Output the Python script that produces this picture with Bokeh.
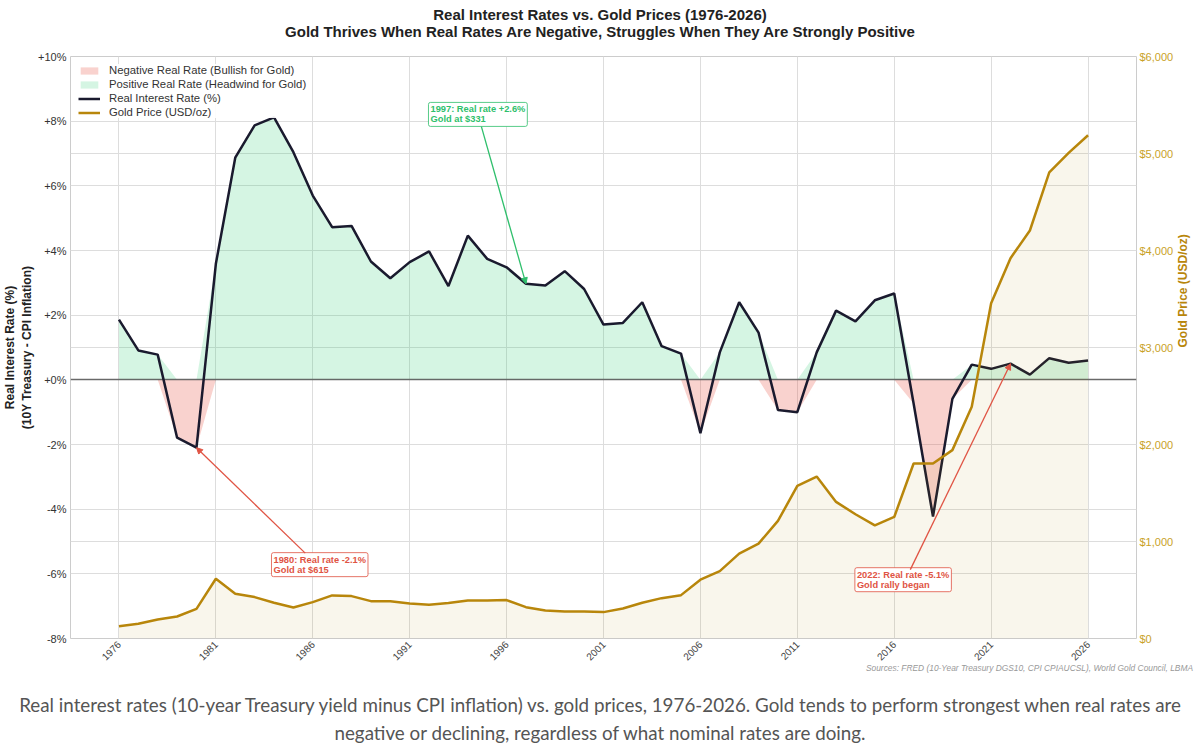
import math
import numpy as np
from bokeh.plotting import figure
from bokeh.layouts import column
from bokeh.models import (Range1d, LinearAxis, FixedTicker, Grid, Label, Arrow, Div,
                          NormalHead, Legend, LegendItem, ColumnDataSource)
from bokeh.embed import file_html
from bokeh.resources import INLINE

# ---------------- data ----------------
years = list(range(1976, 2027))
real_rate = [1.86, 0.91, 0.78, -1.79, -2.10, 3.59, 6.87, 7.87, 8.12, 7.04,
             5.70, 4.72, 4.76, 3.66, 3.14, 3.64, 3.97, 2.90, 4.46, 3.74,
             3.48, 2.97, 2.92, 3.36, 2.81, 1.71, 1.76, 2.40, 1.04, 0.81,
             -1.65, 0.85, 2.40, 1.46, -0.93, -1.00, 0.85, 2.14, 1.81, 2.46,
             2.67, -0.73, -4.23, -0.59, 0.47, 0.34, 0.50, 0.16, 0.67, 0.53, 0.60]
gold_price = [127, 152, 196, 227, 306, 616, 462, 427, 369, 320,
              375, 444, 437, 385, 385, 360, 348, 365, 392, 392,
              396, 323, 289, 279, 279, 272, 310, 368, 416, 447,
              606, 695, 875, 978, 1212, 1573, 1670, 1408, 1281, 1167,
              1253, 1804, 1804, 1942, 2389, 3456, 3921, 4206, 4805, 5006, 5188]

year_ticks = list(range(1976, 2027, 5))
rate_ticks = [-8, -6, -4, -2, 0, 2, 4, 6, 8, 10]
rate_tick_labels = ["-8%", "-6%", "-4%", "-2%", "+0%", "+2%", "+4%", "+6%", "+8%", "+10%"]
gold_ticks = [0, 1000, 2000, 3000, 4000, 5000, 6000]
gold_tick_labels = ["$0", "$1,000", "$2,000", "$3,000", "$4,000", "$5,000", "$6,000"]

legend_labels = ["Negative Real Rate (Bullish for Gold)",
                 "Positive Real Rate (Headwind for Gold)",
                 "Real Interest Rate (%)",
                 "Gold Price (USD/oz)"]

annotations = [
    # (year, text, color)
    (1980, "1980: Real rate -2.1%\nGold at $615", "#e05444"),
    (1997, "1997: Real rate +2.6%\nGold at $331", "#2fbf6c"),
    (2022, "2022: Real rate -5.1%\nGold rally began", "#e05444"),
]

title1 = "Real Interest Rates vs. Gold Prices (1976-2026)"
title2 = "Gold Thrives When Real Rates Are Negative, Struggles When They Are Strongly Positive"
caption1 = ("Real interest rates (10-year Treasury yield minus CPI inflation) vs. gold prices, "
            "1976-2026. Gold tends to perform strongest when real rates are")
caption2 = "negative or declining, regardless of what nominal rates are doing."
sources = "Sources: FRED (10-Year Treasury DGS10, CPI CPIAUCSL), World Gold Council, LBMA"
rate_label = "Real Interest Rate (%)\n(10Y Treasury - CPI Inflation)"
gold_label = "Gold Price (USD/oz)"

FONT = "Liberation Sans"
GOLD = "#b8860b"
RATE = "#1a1a2e"

# ---------------- title block ----------------
title_div = Div(
    text=(f"<div style=\"width:1200px;text-align:center;font-family:'Liberation Sans',Arial,sans-serif;"
          f"font-weight:bold;font-size:15px;line-height:17px;color:#222222;padding-top:6px;\">"
          f"{title1}<br>{title2}</div>"),
    width=1200, height=44, margin=0)

# ---------------- figure ----------------
p = figure(width=1200, height=622, title=None,
           x_range=Range1d(1973.5, 2028.5), y_range=Range1d(-8, 10),
           output_backend="svg", toolbar_location=None,
           min_border_left=70, min_border_right=62,
           min_border_top=12, min_border_bottom=28, margin=0)
p.extra_y_ranges = {"gold": Range1d(0, 6000)}
p.outline_line_color = "#cccccc"
p.outline_line_width = 1
p.background_fill_color = "white"
p.border_fill_color = "white"

gold_axis = LinearAxis(y_range_name="gold")
p.add_layout(gold_axis, "right")

p.xaxis.ticker = FixedTicker(ticks=year_ticks)
p.yaxis.ticker = FixedTicker(ticks=rate_ticks)
gold_axis.ticker = FixedTicker(ticks=gold_ticks)
p.yaxis.major_label_overrides = dict(zip(rate_ticks, rate_tick_labels))
gold_axis.major_label_overrides = dict(zip(gold_ticks, gold_tick_labels))
p.xaxis.major_label_orientation = math.pi / 4

for ax in [p.xaxis[0], p.yaxis[0], gold_axis]:
    ax.major_tick_line_color = None
    ax.minor_tick_line_color = None
    ax.major_tick_out = 0
    ax.major_tick_in = 0
    ax.minor_tick_out = 0
    ax.minor_tick_in = 0
    ax.axis_line_color = None
    ax.major_label_text_font = FONT
    ax.major_label_text_font_size = "11px"
    ax.major_label_text_color = "#333333"
    ax.major_label_standoff = 4
    ax.axis_label_text_font = FONT
    ax.axis_label_text_font_size = "12px"
    ax.axis_label_text_font_style = "bold"
p.xaxis.major_label_text_font_size = "10px"
p.xaxis.major_label_text_color = "#444444"
gold_axis.major_label_text_color = "#c9a227"
gold_axis.major_label_standoff = 3

p.yaxis.axis_label = rate_label
p.yaxis.axis_label_text_color = "#222222"
p.yaxis.axis_label_standoff = 1
gold_axis.axis_label = gold_label
gold_axis.axis_label_text_color = GOLD
gold_axis.axis_label_standoff = 7
gold_axis.axis_label_orientation = math.pi / 2

p.xgrid.ticker = FixedTicker(ticks=year_ticks)
p.ygrid.ticker = FixedTicker(ticks=rate_ticks)
for g in [p.xgrid[0], p.ygrid[0]]:
    g.grid_line_color = "#dddddd"
    g.grid_line_width = 1
gold_grid = Grid(dimension=1, ticker=FixedTicker(ticks=gold_ticks), y_range_name="gold",
                 grid_line_color="#dddddd", grid_line_width=1)
p.add_layout(gold_grid)

# ---------------- glyphs ----------------
rate_arr = np.array(real_rate, dtype=float)
src = ColumnDataSource(dict(year=years, rate=real_rate, gold=gold_price,
                            zero=[0] * len(years),
                            pos=np.maximum(rate_arr, 0), neg=np.minimum(rate_arr, 0)))

r_neg = p.varea(x="year", y1="zero", y2="neg", source=src,
                fill_color="#e74c3c", fill_alpha=0.25)
r_pos = p.varea(x="year", y1="zero", y2="pos", source=src,
                fill_color="#2ecc71", fill_alpha=0.2)
p.hspan(y=[0], line_color="#555555", line_width=1.3, line_alpha=0.85)
r_rate = p.line(x="year", y="rate", source=src, line_color=RATE, line_width=2.5)
r_gfill = p.varea(x="year", y1="zero", y2="gold", source=src, y_range_name="gold",
                  fill_color=GOLD, fill_alpha=0.08)
r_gold = p.line(x="year", y="gold", source=src, y_range_name="gold",
                line_color=GOLD, line_width=2.5)

# ---------------- legend ----------------
legend = Legend(items=[LegendItem(label=legend_labels[0], renderers=[r_neg]),
                       LegendItem(label=legend_labels[1], renderers=[r_pos]),
                       LegendItem(label=legend_labels[2], renderers=[r_rate]),
                       LegendItem(label=legend_labels[3], renderers=[r_gold])],
                location="top_left", margin=8, padding=6, spacing=2,
                glyph_width=22, glyph_height=9, label_standoff=9,
                label_text_font=FONT, label_text_font_size="11.3px",
                label_text_color="#333333", border_line_color=None,
                background_fill_color="white", background_fill_alpha=0.9)
p.add_layout(legend)

# ---------------- annotations ----------------
box_pos = {1980: (1983.87, -5.345), 1997: (1991.97, 8.58), 2022: (2013.97, -5.81)}
arrow_start = {1980: (1985.61, -5.36), 1997: (1994.70, 7.83), 2022: (2016.83, -5.87)}
for yr, txt, col in annotations:
    i = years.index(yr)
    bx, by = box_pos[yr]
    p.add_layout(Label(x=bx, y=by, text=txt, text_align="left", text_baseline="top",
                       text_font=FONT, text_font_size="9.3px", text_font_style="bold",
                       text_color=col, text_line_height=1.0, background_fill_color="white",
                       border_line_color=col, border_line_width=1, border_line_alpha=0.8,
                       padding=2, border_radius=2))
    sx, sy = arrow_start[yr]
    p.add_layout(Arrow(end=NormalHead(size=6, fill_color=col, line_color=col, line_width=1),
                       x_start=sx, y_start=sy, x_end=years[i], y_end=real_rate[i],
                       line_color=col, line_width=1.3))

# ---------------- sources + caption block ----------------
caption_div = Div(
    text=("<div style=\"width:1200px;\">"
          "<div style=\"height:4px;line-height:4px;text-align:right;padding-right:7px;"
          "font-family:'Liberation Sans',Arial,sans-serif;font-style:italic;font-size:8.4px;"
          f"color:#999999;white-space:nowrap;\">{sources}</div>"
          "<div style=\"margin-top:20px;height:30px;line-height:30px;text-align:center;"
          "font-family:Lato,sans-serif;font-size:18.8px;color:#555555;white-space:nowrap;\">"
          f"{caption1}</div>"
          "<div style=\"height:26px;line-height:26px;text-align:center;"
          "font-family:Lato,sans-serif;font-size:18.8px;color:#555555;white-space:nowrap;\">"
          f"{caption2}</div>"
          "</div>"),
    width=1200, height=82, margin=0)

layout = column(title_div, p, caption_div, spacing=0)

open("out.html", "w").write(file_html(layout, INLINE))
